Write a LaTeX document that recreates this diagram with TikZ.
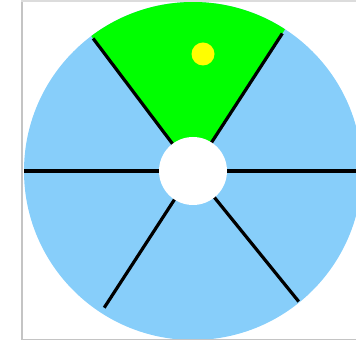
\documentclass[tikz,border=0pt]{standalone}
\usetikzlibrary{calc}
\definecolor{discblue}{HTML}{87CEFA}
\definecolor{wedgegreen}{HTML}{00FF00}
\definecolor{dotyellow}{HTML}{FFFF00}
\definecolor{framegray}{HTML}{C4C4C4}
\tikzset{
  spoke/.style={line width=3.2pt, black},
  hub/.style={circle, fill=white, inner sep=0pt, minimum size=68pt},
  ball/.style={circle, fill=dotyellow, inner sep=0pt, minimum size=23pt}
}
\begin{document}
\begin{tikzpicture}[x=1pt,y=1pt]
  \useasboundingbox (0,0) rectangle (356,342);
  \clip (21,2) rectangle (356,341);

  \coordinate (c) at (193,171);

  % disc and the top sector
  \fill[discblue] (c) circle (169);
  \fill[wedgegreen] (c) -- ++(57:169) arc[start angle=57, end angle=127, radius=169] -- cycle;

  % spokes
  \draw[spoke] ($(c)+(0:30)$) -- ($(c)+(0:172)$);
  \draw[spoke] ($(c)+(180:30)$) -- ($(c)+(180:169)$);
  \foreach \a/\r in {57/164,127/166,237/163,309/168}
    \draw[spoke] ($(c)+(\a:30)$) -- ($(c)+(\a:\r)$);

  \node[hub] (h) at (c) {};
  \node[ball] (b) at (203,288) {};

  % frame
  \draw[framegray, line width=2pt] (22,1.9) -- (22,340.5);
  \draw[framegray, line width=2pt] (21,1.9) -- (356,1.9);
  \draw[framegray!60, line width=1.2pt] (21,341) -- (356,341);
\end{tikzpicture}
\end{document}
